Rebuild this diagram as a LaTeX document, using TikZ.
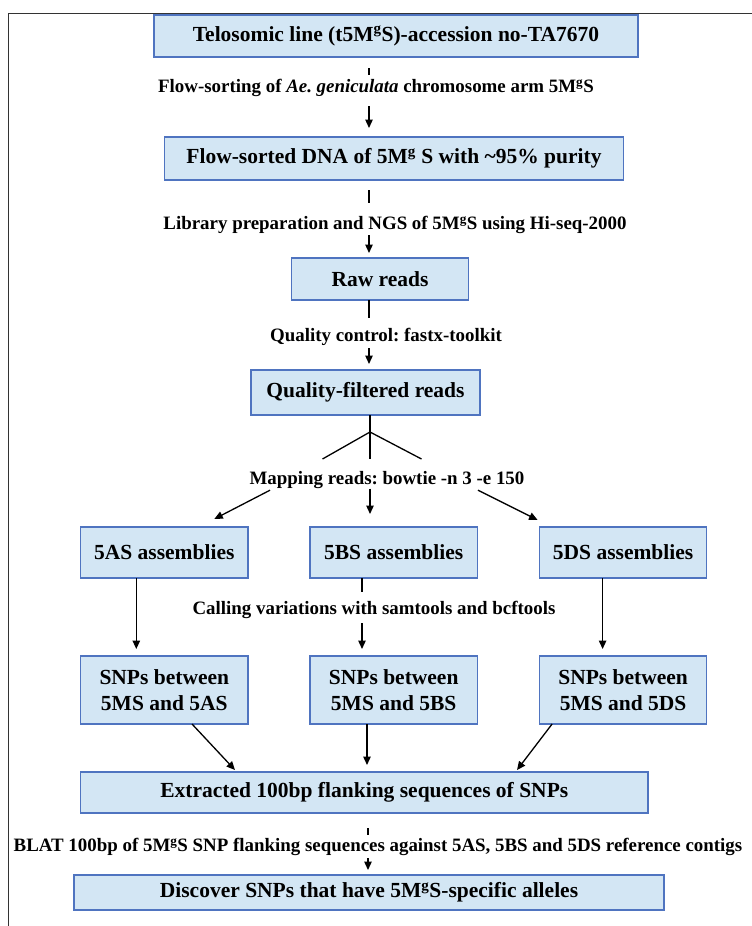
\documentclass[tikz,border=0pt]{standalone}
\usepackage{fontspec}
\setmainfont{Liberation Serif}
\usetikzlibrary{positioning, arrows.meta}
\frenchspacing

\definecolor{boxfill}{HTML}{D3E6F4}
\definecolor{boxline}{HTML}{4F74C0}
\definecolor{framegray}{HTML}{333333}

\tikzset{
  stepbox/.style={draw=boxline, fill=boxfill, line width=1.2pt, inner sep=0pt, outer sep=0pt,
    align=center, font=\fontsize{21.5}{26}\selectfont\bfseries},
  steplabel/.style={inner sep=0pt, text height=13pt, text depth=4pt,
    font=\fontsize{18.9}{21}\selectfont\bfseries},
  link/.style={line width=1.3pt},
  arr/.style={link, -{Triangle[length=8.5pt,width=7.5pt]}},
}

\begin{document}
\begin{tikzpicture}[x=1pt, y=-1pt]
\useasboundingbox (0,0) rectangle (752,926);
\draw[framegray, line width=1.4pt] (8.5,926) -- (8.5,13.5) -- (752,13.5);

% boxes
\node[stepbox, minimum width=484, minimum height=42] (tel) at (396,36)
    {Telosomic line (t5M\textsuperscript{g}S)-accession no-TA7670};
\node[stepbox, minimum width=459, minimum height=43] (fsd) at (394,158.5)
    {Flow-sorted DNA of 5M\textsuperscript{g} S with \textasciitilde95\% purity};
\node[stepbox, minimum width=176.5, minimum height=42] (raw) at (380,279) {Raw reads};
\node[stepbox, minimum width=229, minimum height=45] (qfr) at (365.5,392.5) {Quality-filtered reads};
\node[stepbox, minimum width=167.4, minimum height=51] (as) at (164.3,552.5) {5AS assemblies};
\node[stepbox, minimum width=167.4, minimum height=51, right=62pt of as] (bs) {5BS assemblies};
\node[stepbox, minimum width=167.4, minimum height=51, right=62pt of bs] (ds) {5DS assemblies};
\node[stepbox, minimum width=167.4, minimum height=68, below=78pt of as] (snpa) {SNPs between\\5MS and 5AS};
\node[stepbox, minimum width=167.4, minimum height=68, right=62pt of snpa] (snpb) {SNPs between\\5MS and 5BS};
\node[stepbox, minimum width=167.4, minimum height=68, right=62pt of snpb] (snpd) {SNPs between\\5MS and 5DS};
\node[stepbox, minimum width=567.4, minimum height=41] (ext) at (364.3,792.5)
    {Extracted 100bp flanking sequences of SNPs};
\node[stepbox, minimum width=590, minimum height=35] (disc) at (369,892.5)
    {Discover SNPs that have 5M\textsuperscript{g}S-specific alleles};

% labels
\node[steplabel] (l1) at (376,88)
    {Flow-sorting of \textit{Ae. geniculata} chromosome arm 5M\textsuperscript{g}S};
\node[steplabel] (l2) at (395,225)
    {Library preparation and NGS of 5M\textsuperscript{g}S using Hi-seq-2000};
\node[steplabel] (l3) at (386,337) {Quality control: fastx-toolkit};
\node[steplabel] (l4) at (387,480) {Mapping reads: bowtie -n 3 -e 150};
\node[steplabel] (l5) at (374,610) {Calling variations with samtools and bcftools};
\node[steplabel] (l6) at (378,847)
    {BLAT 100bp of 5M\textsuperscript{g}S SNP flanking sequences against 5AS, 5BS and 5DS reference contigs};

\coordinate (axis) at (369,0);
\coordinate (fork) at (370,432);
\coordinate (fl) at (322.5,459);
\coordinate (fc) at (370,459);
\coordinate (fr) at (421.5,459);
\coordinate (axb) at (362,0);
\coordinate (axe) at (367,0);
\coordinate (axd) at (368,0);

% top column
\draw[link, shorten <=11pt, shorten >=4.5pt] (tel.south -| axis) -- (l1.north -| axis);
\draw[arr, shorten <=9.5pt, shorten >=9pt] (l1.south -| axis) -- (fsd.north -| axis);
\draw[link, shorten <=10pt, shorten >=13.5pt] (fsd.south -| axis) -- (l2.north -| axis);
\draw[arr, shorten <=1.5pt, shorten >=5pt] (l2.south -| axis) -- (raw.north -| axis);
\draw[link, shorten >=10.5pt] (raw.south -| axis) -- (l3.north -| axis);
\draw[arr, shorten <=2.5pt, shorten >=6pt] (l3.south -| axis) -- (qfr.north -| axis);

% fork
\draw[link] (qfr.south -| fork) -- (fork);
\draw[link] (fl) -- (fork) -- (fr);
\draw[link] (fork) -- (fc);

% mapping
\draw[arr] ([xshift=-117pt, yshift=-1.5pt]l4.south) -- ([xshift=50pt, yshift=8pt]as.north);
\draw[arr, shorten >=13pt] (l4.south -| fork) -- (bs.north -| fork);
\draw[arr] ([xshift=91pt, yshift=-1.5pt]l4.south) -- ([xshift=-85.5pt, yshift=7pt]ds.north);

% calling
\draw[arr, shorten >=7pt] ([xshift=-28pt]as.south) -- ([xshift=-28pt]snpa.north);
\draw[link, shorten >=9.5pt] (bs.south -| axb) -- (l5.north -| axb);
\draw[arr, shorten <=4.5pt, shorten >=7pt] (l5.south -| axb) -- (snpb.north -| axb);
\draw[arr, shorten >=7pt] ([xshift=-20.5pt]ds.south) -- ([xshift=-20.5pt]snpd.north);

% extracting
\draw[arr] ([xshift=27.7pt]snpa.south) -- ([xshift=-129.3pt, yshift=2pt]ext.north);
\draw[arr, shorten >=7pt] (snpb.south -| axe) -- (ext.north -| axe);
\draw[arr] ([xshift=-71pt]snpd.south) -- ([xshift=152.7pt, yshift=2pt]ext.north);

% blat
\draw[link, shorten <=15pt, shorten >=3.5pt] (ext.south -| axd) -- (l6.north -| axd);
\draw[arr, shorten <=2.5pt, shorten >=5pt] (l6.south -| axd) -- (disc.north -| axd);
\end{tikzpicture}
\end{document}
